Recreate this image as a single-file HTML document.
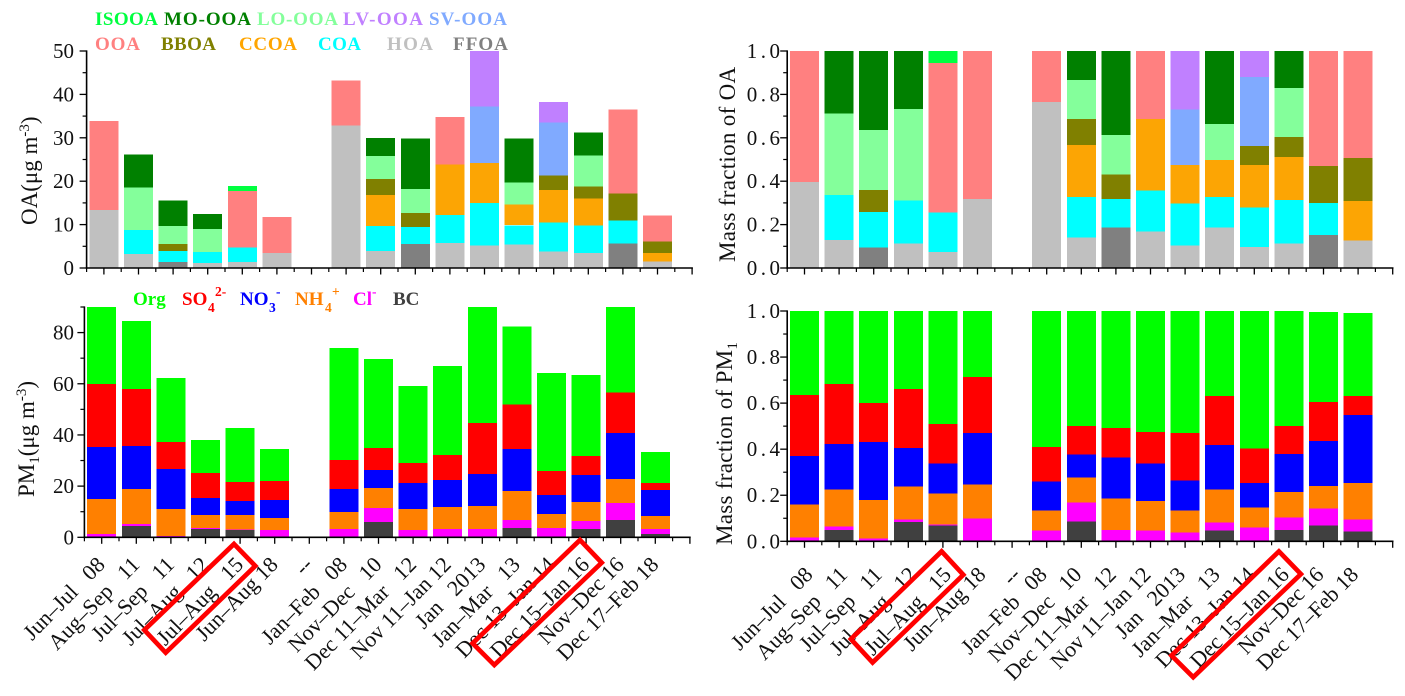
<!DOCTYPE html>
<html lang="en">
<head>
<meta charset="utf-8">
<title>OA and PM1 composition</title>
<style>
html,body{margin:0;padding:0;background:#fff;width:1405px;height:696px;overflow:hidden}
svg{display:block;font-family:"Liberation Serif",serif}
.lg{font-weight:bold;font-size:19px}
.ttl{font-size:23px;fill:#111}
.tk{font-size:21px;fill:#111}
.cat{font-size:22px;fill:#111;white-space:pre}
</style>
</head>
<body>
<svg id="fig" xmlns="http://www.w3.org/2000/svg" width="1405" height="696" viewBox="0 0 1405 696">
  <g>
    <text class="lg" x="95" y="25" fill="#00ff40" textLength="63" lengthAdjust="spacing">ISOOA</text>
    <text class="lg" x="164" y="25" fill="#008000" textLength="87" lengthAdjust="spacing">MO-OOA</text>
    <text class="lg" x="257" y="25" fill="#84ff9b" textLength="81" lengthAdjust="spacing">LO-OOA</text>
    <text class="lg" x="343" y="25" fill="#c080ff" textLength="80" lengthAdjust="spacing">LV-OOA</text>
    <text class="lg" x="429" y="25" fill="#80aaff" textLength="78" lengthAdjust="spacing">SV-OOA</text>
    <text class="lg" x="95" y="50" fill="#ff8080" textLength="45" lengthAdjust="spacing">OOA</text>
    <text class="lg" x="161" y="50" fill="#808000" textLength="55" lengthAdjust="spacing">BBOA</text>
    <text class="lg" x="239" y="50" fill="#ffa500" textLength="58" lengthAdjust="spacing">CCOA</text>
    <text class="lg" x="318" y="50" fill="#00ffff" textLength="43" lengthAdjust="spacing">COA</text>
    <text class="lg" x="387" y="50" fill="#c0c0c0" textLength="46" lengthAdjust="spacing">HOA</text>
    <text class="lg" x="453" y="50" fill="#808080" textLength="55" lengthAdjust="spacing">FFOA</text>
  </g>
  <g font-weight="bold">
    <text class="lg" x="133" y="305" fill="#00ff00">Org</text>
    <g fill="#ff0000">
      <text class="lg" x="182" y="305">SO</text>
      <text x="208" y="312" font-size="13.5">4</text>
      <text x="215" y="296" font-size="13.5">2-</text>
    </g>
    <g fill="#0000ff">
      <text class="lg" x="240" y="305">NO</text>
      <text x="269" y="312" font-size="13.5">3</text>
      <text x="276" y="296" font-size="13.5">-</text>
    </g>
    <g fill="#ff8000">
      <text class="lg" x="295" y="305">NH</text>
      <text x="325" y="312" font-size="13.5">4</text>
      <text x="332" y="296" font-size="13.5">+</text>
    </g>
    <g fill="#ff00ff">
      <text class="lg" x="353" y="305">Cl</text>
      <text x="372" y="296" font-size="13.5">-</text>
    </g>
    <text class="lg" x="393" y="305" fill="#404040">BC</text>
  </g>
  <text class="ttl" transform="translate(37,225) rotate(-90)">OA(μg m<tspan font-size="15" dy="-8">-3</tspan><tspan dy="8">)</tspan></text>
  <text class="ttl" transform="translate(34,497) rotate(-90)">PM<tspan font-size="15" dy="5">1</tspan><tspan dy="-5">(μg m</tspan><tspan font-size="15" dy="-8">-3</tspan><tspan dy="8">)</tspan></text>
  <text class="ttl" transform="translate(735,262) rotate(-90)" letter-spacing="0.3">Mass fraction of OA</text>
  <text class="ttl" transform="translate(732,545) rotate(-90)" letter-spacing="0.3">Mass fraction of PM<tspan font-size="15" dy="5">1</tspan></text>
</svg>
<script>
const categories = ["Jun–Jul   08","Aug–Sep   11","Jul–Sep   11","Jul–Aug   12","Jul–Aug   15","Jun–Aug 18","--","Jan–Feb   08","Nov–Dec   10","Dec 11–Mar   12","Nov 11–Jan 12","Jan   2013","Jan–Mar   13","Dec 13–Jan 14","Dec 15–Jan 16","Nov–Dec 16","Dec 17–Feb 18"];

const oaTickLabels = ["0","10","20","30","40","50"];
const pmTickLabels = ["0","20","40","60","80"];
const fractionTickLabels = ["0.0","0.2","0.4","0.6","0.8","1.0"];

const oaFFOA = [0,0,1.4,0,0,0,0,0,0,5.5,0,0,0,0,0,5.6,0];
const oaHOA = [13.4,3.2,0,1.15,1.4,3.5,0,32.8,3.9,0,5.8,5.2,5.4,3.85,3.5,0,1.5];
const oaCOA = [0,5.6,2.5,2.55,3.3,0,0,0,5.8,4,6.4,9.8,4.45,6.65,6.35,5.3,0];
const oaCCOA = [0,0,0,0,0,0,0,0,7.1,0,11.6,9.2,4.75,7.5,6.15,0,2];
const oaBBOA = [0,0,1.6,0,0,0,0,0,3.7,3.2,0,0,0,3.3,2.8,6.3,2.6];
const oaOOA = [20.5,0,0,0,13.1,8.3,0,10.4,0,0,11,0,0,0,0,19.3,6];
const oaSV = [0,0,0,0,0,0,0,0,0,0,0,13,0,12.2,0,0,0];
const oaLV = [0,0,0,0,0,0,0,0,0,0,0,12.8,0,4.7,0,0,0];
const oaLO = [0,9.7,4.2,5.3,0,0,0,0,5.3,5.5,0,0,5.1,0,7.1,0,0];
const oaMO = [0,7.6,5.8,3.5,0,0,0,0,4.2,11.6,0,0,10.1,0,5.3,0,0];
const oaISO = [0,0,0,0,1.1,0,0,0,0,0,0,0,0,0,0,0,0];

const fracFFOA = [0,0,.094,0,0,0,0,0,0,.186,0,0,0,0,0,.153,0];
const fracHOA = [.397,.13,0,.113,.075,.319,0,.765,.14,0,.169,.104,.186,.098,.113,0,.126];
const fracCOA = [0,.207,.165,.197,.18,0,0,0,.188,.133,.187,.194,.142,.181,.201,.147,0];
const fracCCOA = [0,0,0,0,0,0,0,0,.239,0,.331,.177,.17,.196,.198,0,.184];
const fracBBOA = [0,0,.101,0,0,0,0,0,.12,.111,0,0,0,.088,.092,.171,.198];
const fracOOA = [.603,0,0,0,.69,.681,0,.235,0,0,.313,0,0,0,0,.529,.492];
const fracSV = [0,0,0,0,0,0,0,0,0,0,0,.255,0,.317,0,0,0];
const fracLV = [0,0,0,0,0,0,0,0,0,0,0,.27,0,.12,0,0,0];
const fracLO = [0,.375,.277,.423,0,0,0,0,.18,.183,0,0,.166,0,.226,0,0];
const fracMO = [0,.288,.363,.267,0,0,0,0,.133,.387,0,0,.336,0,.17,0,0];
const fracISO = [0,0,0,0,.055,0,0,0,0,0,0,0,0,0,0,0,0];

const pmBC = [0,4.4,0,3.3,2.9,0,0,0,6,0,0,0,3.65,0,3.3,6.8,1.3];
const pmCl = [1.3,.8,.5,.3,.1,2.9,0,3.3,5.5,2.9,3.3,3.3,3.15,3.65,3.1,6.6,2];
const pmNH4 = [13.7,13.7,10.6,5.1,5.7,4.7,0,6.6,7.8,8.2,8.6,8.9,11.3,5.45,7.4,9.4,5];
const pmNO3 = [20.3,16.8,15.6,6.7,5.5,7,0,9,7,10.1,10.5,12.6,16.4,7.5,10.6,18,10.2];
const pmSO4 = [24.6,22.3,10.6,9.7,7.4,7.4,0,11.3,8.6,7.8,9.8,19.9,17.3,9.3,7.4,15.7,2.8];
const pmOrg = [30.1,26.6,25,12.9,21.1,12.5,0,43.8,34.8,30.2,34.8,45.3,30.5,38.4,31.7,33.5,12.1];

const pfBC = [0,.05,0,.085,.068,0,0,0,.085,0,0,0,.046,0,.05,.068,.042];
const pfCl = [.016,.014,.012,.009,.004,.098,0,.046,.083,.05,.046,.038,.035,.059,.053,.074,.052];
const pfNH4 = [.143,.16,.168,.143,.135,.148,0,.087,.108,.135,.13,.095,.143,.087,.112,.099,.16];
const pfNO3 = [.212,.199,.252,.169,.13,.225,0,.126,.1,.178,.161,.13,.195,.108,.165,.195,.295];
const pfSO4 = [.265,.261,.169,.256,.173,.243,0,.151,.125,.13,.138,.208,.213,.148,.121,.169,.083];
const pfOrg = [.364,.316,.399,.338,.49,.286,0,.59,.499,.507,.525,.529,.368,.598,.499,.391,.359];

const oaColors = ["#808080","#c0c0c0","#00ffff","#fca504","#808000","#ff8080","#80aaff","#c080ff","#84ff9b","#008000","#00ff40"];
const oaKeys = ["ffoa","hoa","coa","ccoa","bboa","ooa","sv-ooa","lv-ooa","lo-ooa","mo-ooa","isooa"];
const pmColors = ["#404040","#ff00ff","#ff8000","#0000ff","#ff0000","#00ff00"];
const pmKeys = ["bc","cl","nh4","no3","so4","org"];

const svg = document.getElementById('fig');
const NS = 'http://www.w3.org/2000/svg';

function mk(parent, tag, attrs) {
  const el = document.createElementNS(NS, tag);
  for (const k in attrs) el.setAttribute(k, attrs[k]);
  parent.appendChild(el);
  return el;
}

function drawPanel(cfg) {
  const g = mk(svg, 'g', {});
  
  
  const xScale = i => cfg.x0 + i * cfg.pitch;
  const yScale = v => cfg.yBot - (Math.min(v, cfg.max) / cfg.max) * (cfg.yBot - cfg.yTop);
  const axisX = xScale(-0.5);
  const axisEnd = xScale(17);

  // stacked bars
  categories.forEach((cat, i) => {
    let base = 0;
    cfg.series.forEach((arr, s) => {
      const v = arr[i];
      if (!v) return;
      const y1 = yScale(base), y2 = yScale(base + v);
      base += v;
      const bar = mk(g, 'rect', {
        x: (xScale(i) - cfg.barW / 2).toFixed(1), y: y2.toFixed(1),
        width: cfg.barW, height: Math.max(0, y1 - y2).toFixed(1),
        fill: cfg.colors[s], 'shape-rendering': 'crispEdges'
      });
      
      
    });
  });

  // axes
  const ya = mk(g, 'line', {x1: axisX, x2: axisX, y1: cfg.yTop - 0.6, y2: cfg.yBot + 0.8, stroke: '#000', 'stroke-width': 1.6});
  
  
  const xa = mk(g, 'line', {x1: axisX - 0.8, x2: axisEnd + 0.8, y1: cfg.yBot, y2: cfg.yBot, stroke: '#000', 'stroke-width': 1.6});
  
  

  // y ticks
  cfg.ticks.forEach((lab, k) => {
    const y = yScale(parseFloat(lab));
    const t = mk(g, 'line', {x1: axisX - 7, x2: axisX, y1: y, y2: y, stroke: '#000', 'stroke-width': 1.3});
    
    
    const tx = mk(g, 'text', {x: cfg.labelRight, y: y + 7, 'text-anchor': 'end', class: 'tk', 'letter-spacing': cfg.tickSpacing});
    tx.textContent = lab;
    
    
    const next = cfg.ticks[k + 1] !== undefined ? parseFloat(cfg.ticks[k + 1]) : parseFloat(lab) + cfg.step;
    const midV = (parseFloat(lab) + next) / 2;
    if (midV <= cfg.max) {
      const my = yScale(midV);
      const m = mk(g, 'line', {x1: axisX - 4, x2: axisX, y1: my, y2: my, stroke: '#000', 'stroke-width': 1.2});
      
      
    }
  });

  // x ticks and labels
  for (let i = 0; i <= 17; i++) {
    const x = xScale(i);
    const t = mk(g, 'line', {x1: x, x2: x, y1: cfg.yBot, y2: cfg.yBot + 6.5, stroke: '#000', 'stroke-width': 1.3});
    
    
    const mx = xScale(i - 0.5);
    const m = mk(g, 'line', {x1: mx, x2: mx, y1: cfg.yBot, y2: cfg.yBot + 4, stroke: '#000', 'stroke-width': 1.2});
    
    
  }
  if (cfg.showLabels) {
    categories.forEach((cat, i) => {
      const px = xScale(i) + (i < 7 ? cfg.labelDxLeft : cfg.labelDxRight), py = cfg.yBot + cfg.labelDy;
      const tx = mk(g, 'text', {class: 'cat', 'text-anchor': 'end', transform: 'translate(' + px.toFixed(1) + ',' + py.toFixed(1) + ') rotate(-45.5)'});
      tx.setAttribute('xml:space', 'preserve');
      tx.textContent = cat;
      
      
    });
  }
  return {xScale, g};
}

function highlight(panel, i, yAxis, corners, name) {
  const tick = panel.xScale(i);
  const pts = corners.map(c => (tick + c[0]).toFixed(1) + ',' + (yAxis + c[1]).toFixed(1)).join(' ');
  const p = mk(panel.g, 'polygon', {points: pts, fill: 'none', stroke: '#ff0000', 'stroke-width': 4.7});
  
  
}

const oaSeries = [oaFFOA,oaHOA,oaCOA,oaCCOA,oaBBOA,oaOOA,oaSV,oaLV,oaLO,oaMO,oaISO];
const fracSeries = [fracFFOA,fracHOA,fracCOA,fracCCOA,fracBBOA,fracOOA,fracSV,fracLV,fracLO,fracMO,fracISO];
const pmSeries = [pmBC,pmCl,pmNH4,pmNO3,pmSO4,pmOrg];
const pfSeries = [pfBC,pfCl,pfNH4,pfNO3,pfSO4,pfOrg];

drawPanel({name:'oa', series:oaSeries, colors:oaColors, keys:oaKeys, x0:103.9, pitch:34.6, yTop:51, yBot:268, max:50, step:10, ticks:oaTickLabels, labelRight:74, tickSpacing:0, barW:29, showLabels:false});
drawPanel({name:'oa-fraction', series:fracSeries, colors:oaColors, keys:oaKeys, x0:804.5, pitch:34.6, yTop:51, yBot:268, max:1, step:.2, ticks:fractionTickLabels, labelRight:783.5, tickSpacing:3.5, barW:29, showLabels:false});
const pmPanel = drawPanel({name:'pm', series:pmSeries, colors:pmColors, keys:pmKeys, x0:101.7, pitch:34.6, yTop:307, yBot:537.3, max:90, step:20, ticks:pmTickLabels, labelRight:74, tickSpacing:0, barW:29, showLabels:true, labelDxLeft:4.5, labelDxRight:4.5, labelDy:28.5});
const pfPanel = drawPanel({name:'pm-fraction', series:pfSeries, colors:pmColors, keys:pmKeys, x0:804.5, pitch:34.6, yTop:311, yBot:541.3, max:1, step:.2, ticks:fractionTickLabels, labelRight:783.5, tickSpacing:3.5, barW:29, showLabels:true, labelDxLeft:9.5, labelDxRight:1.5, labelDy:34.5});

highlight(pmPanel, 4, 537.3, [[-6.1,6.7],[15.2,28.7],[-74.4,115.4],[-95.8,92.7]], 'highlight-jul-aug-15');
highlight(pmPanel, 14, 537.3, [[-6.1,2.7],[15.6,25.4],[-91.8,127.7],[-113.5,106]], 'highlight-dec15-jan16');
highlight(pfPanel, 4, 541.3, [[-1.3,10.1],[20.4,33.5],[-70.3,121.2],[-92,97.8]], 'highlight-fraction-jul-aug-15');
highlight(pfPanel, 14, 541.3, [[-10,10.1],[12,32.8],[-95.7,135.9],[-117.4,114.2]], 'highlight-fraction-dec15-jan16');
</script>
</body>
</html>
